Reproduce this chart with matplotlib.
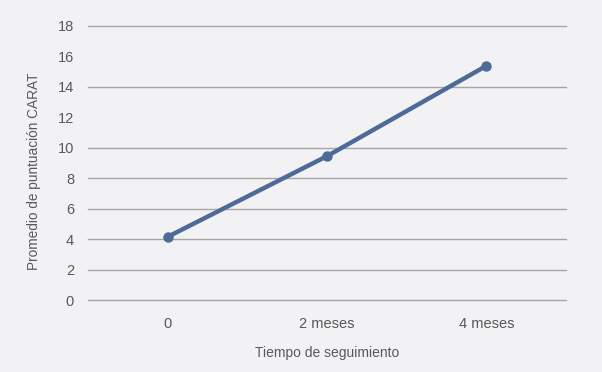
import matplotlib
matplotlib.use("Agg")
import matplotlib.pyplot as plt
from matplotlib import font_manager

categories = ["0", "2 meses", "4 meses"]
values = [4.15, 9.45, 15.38]
y_ticks = [0, 2, 4, 6, 8, 10, 12, 14, 16, 18]
grid_values = [0, 2, 4, 6, 8, 10, 14, 18]

names = {f.name for f in font_manager.fontManager.ttflist}
fam = "Liberation Sans Narrow" if "Liberation Sans Narrow" in names else "Liberation Sans"
plt.rcParams["font.family"] = [fam, "DejaVu Sans"]

bg = "#f2f2f4"
txt = "#595959"
line_c = "#4d6b96"

fig = plt.figure(figsize=(6.02, 3.72), dpi=100, facecolor=bg)
ax = fig.add_axes([0.1462, 0.1935, 0.7940, 0.7367], facecolor=bg)

for g in grid_values:
    ax.axhline(g, color="#a6a6a6", lw=1.0, zorder=1, clip_on=False)

x = list(range(len(categories)))
ax.plot(x, values, color=line_c, lw=3.2, marker="o", markersize=6.5, zorder=3,
        solid_capstyle="round")

ax.set_xlim(-0.5, len(categories) - 0.5)
ax.set_ylim(0, 18)
ax.set_yticks(y_ticks)
ax.set_xticks(x)
ax.set_xticklabels(categories)
for s in ax.spines.values():
    s.set_visible(False)
ax.tick_params(axis="both", length=0, colors=txt, labelsize=10.5)
ax.tick_params(axis="y", pad=10)
ax.tick_params(axis="x", pad=12)
ax.set_ylabel("Promedio de puntuación CARAT", color=txt, fontsize=9.8)
ax.yaxis.set_label_coords(-0.098, 0.47)
ax.set_xlabel("Tiempo de seguimiento", color=txt, fontsize=10, labelpad=11)

fig.savefig("out.png", dpi=100, facecolor=bg)
